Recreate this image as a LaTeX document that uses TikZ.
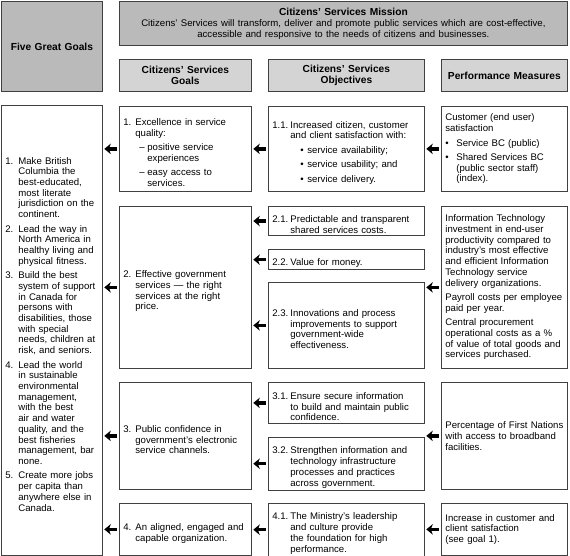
\documentclass[tikz,border=0pt]{standalone}
\usepackage{fontspec}
\setmainfont{Liberation Sans}
\usetikzlibrary{arrows.meta}

\newcommand{\bodyfont}{\fontsize{9.6}{10.7}\selectfont\setlength{\parskip}{3.8pt}}
\newcommand{\headfont}{\fontsize{10.2}{11}\selectfont\bfseries}
% numbered line with hanging indent
\newcommand{\numitem}[3]{\par\hangindent=#1\hangafter=1\noindent\makebox[#1][l]{#2}#3\par}
% dash or bullet line, moved in by #1
\newcommand{\markitem}[4]{\par{\leftskip=#1\hangindent=#2\hangafter=1\noindent\makebox[#2][l]{#3}#4\par}}

\tikzset{
  cell/.style={draw=black!75, line width=0.8pt, anchor=north west, inner xsep=4pt, inner ysep=2pt, align=left, font=\bodyfont},
  hdr/.style={cell, fill=black!17, align=center, font=\headfont},
  arr/.style={draw=black, line width=3.4pt, -{Stealth[length=6.5pt, width=10.5pt, inset=2pt]}, shorten <=2.5pt, shorten >=1.5pt}
}

\begin{document}
\begin{tikzpicture}[x=1pt, y=-1pt]
    \useasboundingbox (0,0) rectangle (570,556);

    % Header row
    \node[hdr, fill=black!27, text width=93pt, minimum height=90pt] (fgg) at (1,1) {Five Great Goals};
    \node[hdr, fill=black!27, text width=440pt, minimum height=44pt] (mission) at (119,1)
        {Citizens’ Services Mission\\
         {\mdseries\fontsize{9.6}{11}\selectfont Citizens’ Services will transform, deliver and promote public services which are cost-effective,}\\
         {\mdseries\fontsize{9.6}{11}\selectfont accessible and responsive to the needs of citizens and businesses.}};
    \node[hdr, text width=124pt, minimum height=32pt] (hgoal) at (119,59) {Citizens’ Services\\Goals};
    \node[hdr, text width=148pt, minimum height=32pt] (hobj) at (268,59) {Citizens’ Services\\Objectives};
    \node[hdr, text width=118pt, minimum height=32pt] (hperf) at (441,59) {Performance Measures};

    % Five great goals
    \node[cell, text width=93pt, minimum height=450pt] (five) at (1,105) {%
        \numitem{13pt}{1.}{Make British\newline Columbia the\newline best-educated,\newline most literate\newline jurisdiction on the\newline continent.}
        \numitem{13pt}{2.}{Lead the way in\newline North America in\newline healthy living and\newline physical fitness.}
        \numitem{13pt}{3.}{Build the best\newline system of support\newline in Canada for\newline persons with\newline disabilities, those\newline with special\newline needs, children at\newline risk, and seniors.}
        \numitem{13pt}{4.}{Lead the world\newline in sustainable\newline environmental\newline management,\newline with the best\newline air and water\newline quality, and the\newline best fisheries\newline management, bar\newline none.}
        \numitem{13pt}{5.}{Create more jobs\newline per capita than\newline anywhere else in\newline Canada.}};

    % Goals
    \node[cell, text width=124pt, minimum height=85pt] (g1) at (119,106) {%
        \numitem{12pt}{1.}{Excellence in service\newline quality:}
        \markitem{16pt}{8pt}{–}{positive service\newline experiences}
        \markitem{16pt}{8pt}{–}{easy access to\newline services.}};
    \node[cell, text width=124pt, minimum height=162pt] (g2) at (119,206) {%
        \numitem{12pt}{2.}{Effective government\newline services — the right\newline services at the right\newline price.}};
    \node[cell, text width=124pt, minimum height=107pt] (g3) at (119,382) {%
        \numitem{12pt}{3.}{Public confidence in\newline government’s electronic\newline service channels.}};
    \node[cell, text width=124pt, minimum height=52pt] (g4) at (119,503) {%
        \numitem{12pt}{4.}{An aligned, engaged and\newline capable organization.}};

    % Objectives
    \node[cell, text width=148pt, minimum height=85pt] (o11) at (268,106) {%
        \numitem{18pt}{1.1.}{Increased citizen, customer\newline and client satisfaction with:}
        \markitem{28pt}{7pt}{•}{service availability;}
        \markitem{28pt}{7pt}{•}{service usability; and}
        \markitem{28pt}{7pt}{•}{service delivery.}};
    \node[cell, text width=148pt, minimum height=28pt] (o21) at (268,206) {%
        \numitem{18pt}{2.1.}{Predictable and transparent\newline shared services costs.}};
    \node[cell, text width=148pt, minimum height=19pt] (o22) at (268,249) {%
        \numitem{18pt}{2.2.}{Value for money.}};
    \node[cell, text width=148pt, minimum height=86pt] (o23) at (268,282) {%
        \numitem{18pt}{2.3.}{Innovations and process\newline improvements to support\newline government-wide\newline effectiveness.}};
    \node[cell, text width=148pt, minimum height=41pt] (o31) at (268,382) {%
        \numitem{18pt}{3.1.}{Ensure secure information\newline to build and maintain public\newline confidence.}};
    \node[cell, text width=148pt, minimum height=52pt] (o32) at (268,437) {%
        \numitem{18pt}{3.2.}{Strengthen information and\newline technology infrastructure\newline processes and practices\newline across government.}};
    \node[cell, text width=148pt, minimum height=52pt] (o41) at (268,503) {%
        \numitem{18pt}{4.1.}{The Ministry’s leadership\newline and culture provide\newline the foundation for high\newline performance.}};

    % Performance measures
    \node[cell, text width=118pt, minimum height=85pt] (p1) at (441,106) {%
        Customer (end user)\newline satisfaction\par
        \markitem{0pt}{11pt}{•}{Service BC (public)}
        \markitem{0pt}{11pt}{•}{Shared Services BC\newline (public sector staff)\newline (index).}};
    \node[cell, text width=118pt, minimum height=162pt] (p2) at (441,206) {%
        Information Technology\newline investment in end-user\newline productivity compared to\newline industry’s most effective\newline and efficient Information\newline Technology service\newline delivery organizations.\par
        Payroll costs per employee\newline paid per year.\par
        Central procurement\newline operational costs as a \%\newline of value of total goods and\newline services purchased.};
    \node[cell, text width=118pt, minimum height=107pt] (p3) at (441,382) {%
        Percentage of First Nations\newline with access to broadband\newline facilities.};
    \node[cell, text width=118pt, minimum height=52pt] (p4) at (441,503) {%
        Increase in customer and\newline client satisfaction\newline (see goal 1).};

    % Arrows
    \draw[arr] (g1.west) -- (g1.west -| five.east);
    \draw[arr] (g2.west) -- (g2.west -| five.east);
    \draw[arr] (g3.west) -- (g3.west -| five.east);
    \draw[arr] (g4.west) -- (g4.west -| five.east);
    \draw[arr] (o11.west) -- (o11.west -| g1.east);
    \draw[arr] (o21.west) -- (o21.west -| g2.east);
    \draw[arr] (o22.west) -- (o22.west -| g2.east);
    \draw[arr] (o23.west) -- (o23.west -| g2.east);
    \draw[arr] (o31.west) -- (o31.west -| g3.east);
    \draw[arr] (o32.west) -- (o32.west -| g3.east);
    \draw[arr] (o41.west) -- (o41.west -| g4.east);
    \draw[arr] (p1.west) -- (p1.west -| o11.east);
    \draw[arr] (p2.west) -- (p2.west -| o23.east);
    \draw[arr] (p3.west) -- (p3.west -| o31.east);
    \draw[arr] (p4.west) -- (p4.west -| o41.east);
\end{tikzpicture}
\end{document}
